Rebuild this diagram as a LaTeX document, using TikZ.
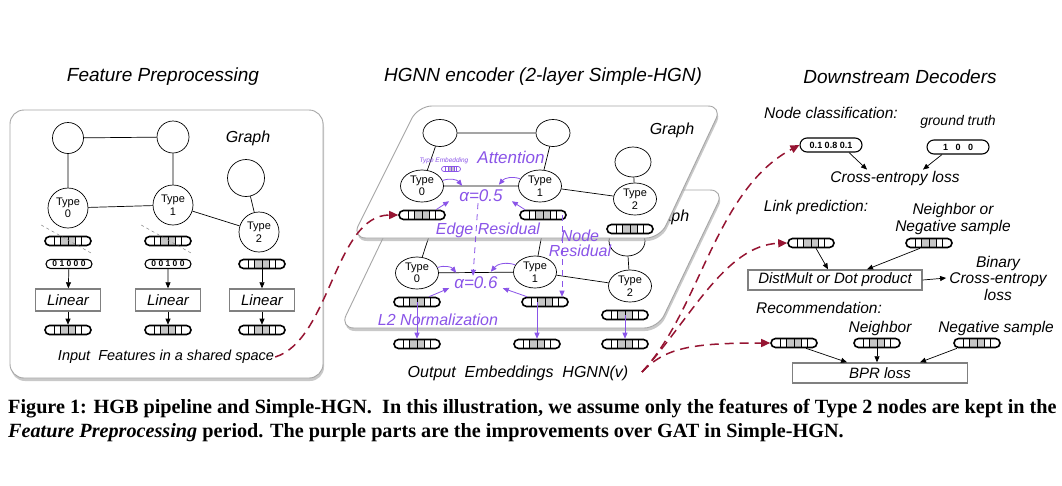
\documentclass[tikz,border=0pt]{standalone}
\usepackage{fontspec}
\setmainfont{Liberation Sans}
\newfontfamily\capfont{Liberation Serif}
\usetikzlibrary{shapes.geometric,shapes.misc,arrows.meta,calc,shadows}
\definecolor{hgpurple}{RGB}{138,84,232}
\definecolor{decred}{RGB}{150,20,50}
\tikzset{
  lab/.style={font=\itshape\fontsize{#1}{#1}\selectfont, inner sep=1pt},
  plab/.style={lab=#1, text=hgpurple},
  gnode/.style={circle, draw, fill=white, inner sep=0pt, minimum size=#1, line width=0.7pt},
  gell/.style={ellipse, draw, fill=white, inner sep=0pt, minimum width=34pt, minimum height=27pt, line width=0.7pt},
  tnode/.style={align=center, font=\fontsize{11}{12.5}\selectfont},
  tell/.style={gell, tnode, minimum width=43pt, minimum height=32pt},
  panel/.style={draw=gray!70, line width=0.9pt, rounded corners=14pt, fill=white,
    drop shadow={shadow xshift=1pt, shadow yshift=-3pt, fill=gray!70, opacity=0.6}},
  linbox/.style={draw=gray, line width=1.4pt, minimum width=65pt, minimum height=22pt, inner sep=0pt,
    font=\itshape\fontsize{15}{15}\selectfont},
  featvec/.style={rounded rectangle, draw, line width=1.6pt, minimum width=46pt, minimum height=9pt,
    inner sep=0pt, fill=white,
    path picture={
      \fill[gray!45] ($(path picture bounding box.south west)!0.34!(path picture bounding box.south east)$)
        rectangle ($(path picture bounding box.north west)!0.66!(path picture bounding box.north east)$);
      \foreach \fr in {0.2,0.34,0.5,0.66,0.8}
        \draw[line width=0.8pt] ($(path picture bounding box.south west)!\fr!(path picture bounding box.south east)$)
          -- ($(path picture bounding box.north west)!\fr!(path picture bounding box.north east)$);
    }},
  tinyvec/.style={featvec, draw=hgpurple, line width=0.7pt, minimum width=19pt, minimum height=5pt},
  onehot/.style={rounded rectangle, draw, line width=1.1pt, minimum width=46pt, minimum height=9pt,
    inner sep=0pt, font=\bfseries\fontsize{8.5}{8.5}\selectfont},
  pill/.style={onehot, minimum width=62pt, minimum height=14pt, font=\bfseries\fontsize{9}{9}\selectfont},
  arr/.style={-{Triangle[length=6pt,width=5pt]}, line width=0.7pt},
  parr/.style={arr, hgpurple, line width=0.8pt},
  redarr/.style={decred, line width=1.5pt, dash pattern=on 9pt off 6pt, -{Triangle[length=9pt,width=8pt]}},
}
\begin{document}
\begin{tikzpicture}[x=1pt,y=-1pt]
  \useasboundingbox[fill=white] (0,0) rectangle (1062,485);

  % Titles
  \node[lab=19] (ttlA) at (163,77) {Feature Preprocessing};
  \node[lab=19] (ttlB) at (543,77) {HGNN encoder (2-layer Simple-HGN)};
  \node[lab=19] (ttlC) at (900,77) {Downstream Decoders};

  % Feature preprocessing panel
  \draw[panel] (10,110) rectangle (323,378);
  \node[lab=16] (fgr) at (248,138) {Graph};
  \node[gnode=31] (fA) at (68,138) {};
  \node[gnode=32] (fB) at (173,137) {};
  \node[gnode=37] (fC) at (246,178) {};
  \node[gnode=40, tnode] (f0) at (68,208) {Type\\0};
  \node[gnode=40, tnode] (f1) at (173,205) {Type\\1};
  \node[gnode=40, tnode] (f2) at (259,232) {Type\\2};
  \draw[line width=0.7pt] (fA) -- (fB) (fA) -- (f0) (fB) -- (f1) (f0) -- (f1) (f1) -- (f2) (fC) -- (f2);

  \node[featvec] (fx0) at (68,241) {};
  \node[featvec] (fx1) at (168,241) {};
  \draw[dashed, gray, line width=0.5pt] ($(fx0.west)+(-3,-16)$) -- ($(fx0.east)+(1,13)$);
  \draw[dashed, gray, line width=0.5pt] ($(fx1.west)+(-3,-16)$) -- ($(fx1.east)+(1,13)$);
  \node[onehot] (fh0) at (69,264) {0 1 0 0 0};
  \node[onehot] (fh1) at (168,264) {0 0 1 0 0};
  \node[featvec] (fh2) at (262,264) {};
  \foreach \c/\x in {0/68,1/168,2/262} {
    \node[linbox] (fl\c) at (\x,300) {Linear};
    \node[featvec] (fo\c) at (\x,330) {};
    \draw[arr] (fh\c) -- (fl\c);
    \draw[arr] (fl\c) -- (fo\c);
  }
  \node[lab=14.5] (inp) at (166,357) {Input\ \ Features in a shared space};

  % HGNN encoder: lower layer
  \draw[panel] (340,328) -- (658,328) -- (724,190) -- (406,190) -- cycle;
  \node[lab=16] (bgr) at (667,217) {Graph};
  \node[gell] (bA) at (435,218) {};
  \node[gell] (bB) at (545,218) {};
  \node[gell, minimum width=36pt, minimum height=30pt] (bC) at (627,241) {};
  \node[tell] (b0) at (417,273) {Type\\0};
  \node[tell] (b1) at (535,272) {Type\\1};
  \node[tell] (b2) at (630,286) {Type\\2};
  \draw[line width=0.7pt] (bA) -- (bB) (bA) -- (b0) (bB) -- (b1) (b0) -- (b1) (b1) -- (b2) (bC) -- (b2);
  \node[featvec] (bv0) at (417,302) {};
  \node[featvec] (bv1) at (545,302) {};
  \node[featvec] (bv2) at (625,315) {};
  \node[plab=17] (a6) at (476,283) {α=0.6};
  \draw[parr] (b0.15) to[bend left=35] ($(a6.north west)+(3,-3)$);
  \draw[parr] (b1.160) to[bend right=35] ($(a6.north east)+(-8,-4)$);
  \draw[parr] ([xshift=12pt]bv0.north) -- ($(a6.south west)+(-4,-2)$);
  \draw[parr] ([xshift=-18pt]bv1.north) -- ($(a6.south east)+(4,-2)$);

  % HGNN encoder: upper layer
  \draw[panel] (352,238) -- (660,238) -- (722,106) -- (418,106) -- cycle;
  \node[lab=16] (tgr) at (672,130) {Graph};
  \node[gell] (tA) at (440,133) {};
  \node[gell] (tB) at (553,133) {};
  \node[gell, minimum width=36pt, minimum height=30pt] (tC) at (633,162) {};
  \node[tell] (t0) at (422,186) {Type\\0};
  \node[tell] (t1) at (540,186) {Type\\1};
  \node[tell] (t2) at (635,199) {Type\\2};
  \draw[line width=0.7pt] (tA) -- (tB) (tA) -- (t0) (tB) -- (t1) (t0) -- (t1) (t1) -- (t2) (tC) -- (t2);
  \node[featvec] (tv0) at (422,215) {};
  \node[featvec] (tv1) at (543,215) {};
  \node[featvec] (tv2) at (630,229) {};
  \node[plab=17] (att) at (511,157) {Attention};
  \node[plab=6.5] (temb) at (444,161) {Type Embedding};
  \node[tinyvec] (tev) at (451,169) {};
  \node[plab=17] (a5) at (481,196) {α=0.5};
  \draw[parr] (t0.15) to[bend left=35] ($(a5.north west)+(4,-3)$);
  \draw[parr] (t1.160) to[bend right=35] ($(a5.north east)+(-5,-4)$);
  \draw[parr] ([xshift=14pt]tv0.north) -- ($(a5.south west)+(-9,-2)$);
  \draw[parr] ([xshift=-18pt]tv1.north) -- ($(a5.south east)+(8,-2)$);

  % residual connections
  \draw[parr, dash pattern=on 6pt off 5pt] ([xshift=-3pt]a5.south) -- ([xshift=-3pt]a6.north);
  \node[plab=16] (eres) at (488,230) {Edge Residual};
  \draw[parr, dash pattern=on 6pt off 5pt] ([xshift=19pt]tv1.center) -- ([xshift=17pt]bv1.north);
  \node[plab=16, align=center] (nres) at (580,243) {Node\\[-1pt]Residual};
  \node[plab=16] (l2n) at (438,320) {L2 Normalization};

  % output embeddings
  \node[featvec] (ov0) at (417,344) {};
  \node[featvec] (ov1) at (537,344) {};
  \node[featvec] (ov2) at (625,344) {};
  \draw[parr] (bv0.center) -- (ov0);
  \draw[parr] (bv1.center -| ov1.north) -- (ov1);
  \draw[parr] (bv2.center) -- (ov2);
  \node[lab=16] (outl) at (518,373) {Output\ \ Embeddings\ \ HGNN(v)};

  % feature flow
  \draw[redarr] (inp.east) .. controls (330,340) and (335,215) .. (tv0.west);

  % Downstream decoders
  \node[lab=15.5] (ncl) at (831,113) {Node classification:};
  \node[lab=14] (gtl) at (958,122) {ground truth};
  \node[pill] (pred) at (831,145) {0.1\ 0.8\ 0.1};
  \node[pill] (gt) at (958,147) {1\ \ \ 0\ \ \ 0};
  \node[lab=15.5] (cel) at (895,178) {Cross-entropy loss};
  \draw[arr] ([xshift=18pt]pred.south) -- ([xshift=-28pt]cel.north);
  \draw[arr] ([xshift=-16pt]gt.south) -- ([xshift=28pt]cel.north);

  \node[lab=15.5] (lpl) at (816,207) {Link prediction:};
  \node[lab=15.5, align=center] (nbl) at (953,219) {Neighbor or\\[1pt]Negative sample};
  \node[featvec] (lp1) at (811,243) {};
  \node[featvec] (lp2) at (929,243) {};
  \node[linbox, minimum width=174pt, minimum height=20pt] (dm) at (835,280) {DistMult or Dot product};
  \node[lab=15.5, align=center] (bce) at (998,278) {Binary\\[1pt]Cross-entropy\\[1pt]loss};
  \draw[arr] ([xshift=5pt]lp1.south) -- ([xshift=-7pt]dm.north);
  \draw[arr] ([xshift=-9pt]lp2.south) -- ([xshift=32pt]dm.north);
  \draw[arr] (dm.east) -- ([xshift=-2pt]bce.west);

  \node[lab=15.5] (recl) at (819,308) {Recommendation:};
  \node[lab=15.5] (nbr) at (880,328) {Neighbor};
  \node[lab=15.5] (neg) at (996,328) {Negative sample};
  \node[featvec] (r1) at (794,343) {};
  \node[featvec] (r2) at (877,343) {};
  \node[featvec] (r3) at (977,343) {};
  \node[linbox, minimum width=175pt, minimum height=20pt] (bpr) at (880,373) {BPR loss};
  \draw[arr] ([xshift=12pt]r1.south) -- ([xshift=-33pt]bpr.north);
  \draw[arr] (r2.south) -- (r2.south |- bpr.north);
  \draw[arr] ([xshift=-20pt]r3.south) -- ([xshift=40pt]bpr.north);

  % embeddings to decoders
  \coordinate (src) at (642,372);
  \draw[redarr] (src) .. controls (700,310) and (715,190) .. (pred.west);
  \draw[redarr] (src) .. controls (690,320) and (725,245) .. (lp1.west);
  \draw[redarr] (src) .. controls (665,348) and (690,343) .. (r1.west);

  % caption
  \node[anchor=west, inner sep=0pt, font=\capfont\bfseries\fontsize{20.2}{20.2}\selectfont] (cap1) at (8,409)
    {Figure 1: HGB pipeline and Simple-HGN.\ \ In this illustration, we assume only the features of Type 2 nodes are kept in the};
  \node[anchor=west, inner sep=0pt, font=\capfont\bfseries\fontsize{20.2}{20.2}\selectfont] (cap2) at (8,433)
    {\textit{Feature Preprocessing} period. The purple parts are the improvements over GAT in Simple-HGN.};
\end{tikzpicture}
\end{document}
